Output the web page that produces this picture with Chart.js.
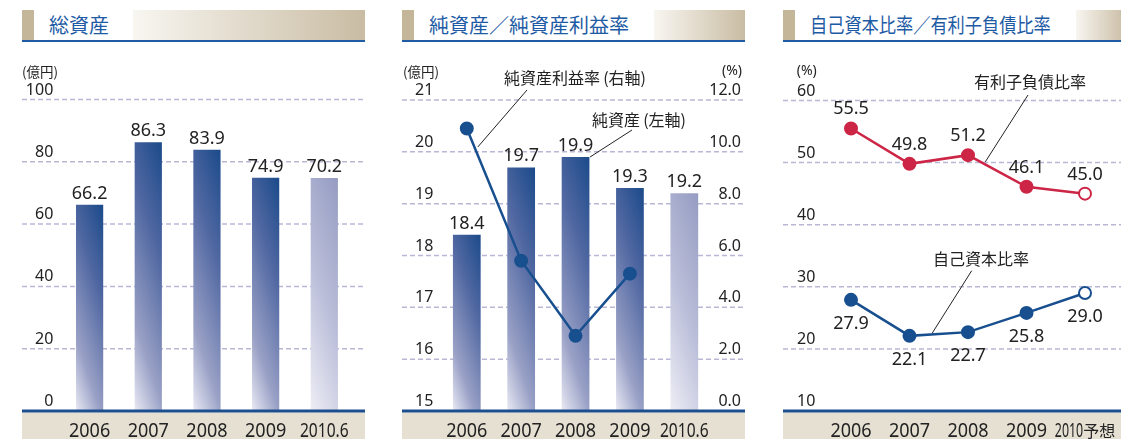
<!DOCTYPE html>
<html><head><meta charset="utf-8">
<script src="https://cdn.jsdelivr.net/npm/chart.js@4.4.1/dist/chart.umd.min.js"></script>
<style>
html,body{margin:0;padding:0;background:#fff;overflow:hidden;width:1121px;height:439px;}
.panel{position:absolute;top:0;width:343px;height:439px;}
.hdr{position:absolute;left:0;top:10px;width:343px;height:29.5px;border-bottom:2px solid #1f5ca3;}
.blk{position:absolute;left:0;top:0;width:11.5px;height:29.5px;background:#c4b699;}
.ttl{position:absolute;left:27px;top:0;height:29.5px;line-height:29.5px;font-family:"Noto Sans CJK JP";font-size:20px;color:#1e5ba5;white-space:nowrap;transform-origin:0 50%;}
.band{position:absolute;top:0;right:0;height:29.5px;background:linear-gradient(to right,#f8f6f1,#c9bca3);}
canvas{position:absolute;left:0;top:45px;}
</style>
</head><body>
<div class="panel" style="left:22px">
  <div class="hdr"><div class="blk"></div><div class="ttl">総資産</div><div class="band" style="left:111px"></div></div>
  <canvas id="c1" width="343" height="394"></canvas>
</div>
<div class="panel" style="left:402px">
  <div class="hdr"><div class="blk"></div><div class="ttl">純資産／純資産利益率</div><div class="band" style="left:252px"></div></div>
  <canvas id="c2" width="343" height="394"></canvas>
</div>
<div class="panel" style="left:783px">
  <div class="hdr"><div class="blk"></div><div class="ttl" style="transform:scaleX(0.86)">自己資本比率／有利子負債比率</div><div class="band" style="left:293px"></div></div>
  <canvas id="c3" width="343" height="394"></canvas>
</div>
<script>
// ---------- data ----------
const years1 = ['2006', '2007', '2008', '2009', '2010.6'];
// bar heights as drawn in the picture (the 2010.6 bar is drawn at ~74.8)
const totalAssets = [66.2, 86.3, 83.9, 74.9, 74.8];
// printed value labels
const totalAssetsLabels = ['66.2', '86.3', '83.9', '74.9', '70.2'];
const ticks1 = [0, 20, 40, 60, 80, 100];

const years2 = ['2006', '2007', '2008', '2009', '2010.6'];
const netAssets = [18.4, 19.7, 19.9, 19.3, 19.2];
const roe = [10.9, 5.8, 2.9, 5.3, null];
const ticks2Left = [15, 16, 17, 18, 19, 20, 21];
const ticks2Right = [0, 2, 4, 6, 8, 10, 12];

const years3 = ['2006', '2007', '2008', '2009', '2010予想'];
const debtRatio = [55.5, 49.8, 51.2, 46.1, 45.0];
const equityRatio = [27.9, 22.1, 22.7, 25.8, 29.0];
const ticks3 = [10, 20, 30, 40, 50, 60];

// ---------- styles ----------
Chart.defaults.font.family = '"Noto Sans", sans-serif';
const CANVAS_TOP = 45;
const BLUE = '#184f8f', RED = '#cc2545';
const NUM = '"Noto Sans", sans-serif';
const JP = '"Noto Sans CJK JP", sans-serif';

function barGradient(bp, lightIndex) {
  return function (ctx) {
    const chart = ctx.chart;
    const light = ctx.dataIndex === lightIndex;
    if (!chart.chartArea || ctx.type !== 'data') return light ? '#b0b5d3' : '#4d64a0';
    const meta = chart.getDatasetMeta(ctx.datasetIndex);
    const xs = chart.scales.x, ys = chart.scales[meta.yAxisID];
    const step = xs.getPixelForValue(1) - xs.getPixelForValue(0);
    const w = step * bp;
    const xc = xs.getPixelForValue(ctx.dataIndex);
    const right = xc + w / 2;
    const top = ys.getPixelForValue(ctx.raw);
    const h = ys.bottom - top;
    const a = 3;
    const k = (a * w + h) / (a * a + 1);
    const g = chart.ctx.createLinearGradient(right, top, right - a * k, top + k);
    if (light) {
      g.addColorStop(0, '#959cc2');
      g.addColorStop(0.5, '#b9bdd8');
      g.addColorStop(1, '#eeeef6');
    } else {
      g.addColorStop(0, '#1b4a8a');
      g.addColorStop(0.35, '#5168a2');
      g.addColorStop(0.75, '#9aa1c6');
      g.addColorStop(1, '#e9eaf4');
    }
    return g;
  };
}

function panelPlugin(opt) {
  return {
    id: 'panel_' + opt.id,
    beforeDatasetsDraw(chart) {
      const c = chart.ctx, W = chart.width;
      const main = chart.scales[opt.axes[0].id];
      c.save();
      c.strokeStyle = '#b8b8d6';
      c.lineWidth = 1.5;
      c.setLineDash([5, 3]);
      opt.axes[0].ticks.forEach(v => {
        if (v === main.min) return;
        const y = main.getPixelForValue(v);
        c.beginPath(); c.moveTo(0, y); c.lineTo(W, y); c.stroke();
      });
      c.setLineDash([]);
      c.fillStyle = '#222';
      c.font = '16px ' + NUM;
      c.textBaseline = 'alphabetic';
      opt.axes.forEach(ax => {
        const s = chart.scales[ax.id];
        c.textAlign = 'right';
        ax.ticks.forEach(v => {
          const y = s.getPixelForValue(v);
          c.fillText(ax.fmt(v), ax.labelX, y - 5);
        });
        c.font = ax.unitFont;
        c.textAlign = ax.unitAlign;
        c.textBaseline = 'middle';
        c.fillText(ax.unit, ax.unitX, 71.5 - CANVAS_TOP);
        c.textBaseline = 'alphabetic';
        c.font = '16px ' + NUM;
      });
      c.restore();
    },
    afterDatasetsDraw(chart) {
      const c = chart.ctx, W = chart.width, H = chart.height;
      const bottom = chart.chartArea.bottom;
      c.save();
      c.fillStyle = '#e6e0d3';
      c.fillRect(0, bottom + 1.5, W, H - bottom);
      c.fillStyle = '#1d4f8e';
      c.fillRect(0, bottom - 1.5, W, 3);
      const xs = chart.scales.x;
      c.fillStyle = '#222';
      c.textBaseline = 'alphabetic';
      const by = 436.5 - CANVAS_TOP;
      opt.labels.forEach((lab, i) => {
        const x = xs.getPixelForValue(i);
        if (lab.indexOf('予想') >= 0) {
          const num = lab.replace('予想', '');
          c.font = '20px ' + NUM;
          const w1 = c.measureText(num).width * 0.62;
          c.font = '16px ' + JP;
          const w2 = c.measureText('予想').width;
          const x0 = x - (w1 + w2) / 2;
          c.save(); c.translate(x0, by); c.scale(0.62, 1);
          c.font = '20px ' + NUM; c.textAlign = 'left'; c.fillText(num, 0, 0);
          c.restore();
          c.font = '16px ' + JP; c.textAlign = 'left';
          c.fillText('予想', x0 + w1, by);
        } else {
          const sx = lab.length > 4 ? 0.78 : 0.9;
          c.save(); c.translate(x, by); c.scale(sx, 1);
          c.font = '20px ' + NUM; c.textAlign = 'center'; c.fillText(lab, 0, 0);
          c.restore();
        }
      });
      c.font = '18px ' + NUM;
      c.textAlign = 'center';
      c.fillStyle = '#222';
      opt.values.forEach(vl => {
        const meta = chart.getDatasetMeta(vl.ds);
        const vals = chart.data.datasets[vl.ds].data;
        meta.data.forEach((el, i) => {
          if (vals[i] == null) return;
          let y;
          if (vl.pos === 'bar') y = el.y - 6;
          else if (vl.pos === 'above') y = el.y - 14;
          else y = el.y + 29;
          const txt = vl.texts ? vl.texts[i] : vals[i].toFixed(1);
          c.fillText(txt, el.x, y);
        });
      });
      (opt.notes || []).forEach(n => {
        c.font = n.font;
        c.textAlign = 'center';
        c.textBaseline = 'middle';
        c.fillText(n.text, n.tx, n.ty);
        const el = chart.getDatasetMeta(n.ds).data[n.idx];
        c.strokeStyle = '#222';
        c.lineWidth = 1;
        c.beginPath();
        c.moveTo(n.lx, n.ly);
        c.lineTo(el.x + n.dx, el.y + n.dy);
        c.stroke();
      });
      c.restore();
    }
  };
}

const baseOpts = {
  responsive: false,
  animation: false,
  events: [],
  plugins: { legend: { display: false }, tooltip: { enabled: false } },
};

// ---------- chart 1 ----------
new Chart(document.getElementById('c1'), {
  type: 'bar',
  data: {
    labels: years1,
    datasets: [{
      data: totalAssets,
      backgroundColor: barGradient(0.464, 4),
      barPercentage: 0.464,
      categoryPercentage: 1,
      borderWidth: 0
    }]
  },
  options: Object.assign({}, baseOpts, {
    layout: { padding: { left: 38.26, right: 11.36, top: 54.5, bottom: 28 } },
    scales: {
      x: { display: false, offset: true },
      y: { display: false, min: 0, max: 100 }
    }
  }),
  plugins: [panelPlugin({
    id: 1,
    labels: years1,
    axes: [{ id: 'y', ticks: ticks1, fmt: v => String(v), labelX: 31.3,
             unit: '(億円)', unitFont: '13.5px ' + JP, unitAlign: 'left', unitX: 0 }],
    values: [{ ds: 0, pos: 'bar', texts: totalAssetsLabels }]
  })]
});

// ---------- chart 2 ----------
new Chart(document.getElementById('c2'), {
  type: 'bar',
  data: {
    labels: years2,
    datasets: [
      {
        type: 'line',
        data: roe,
        yAxisID: 'y1',
        borderColor: BLUE,
        borderWidth: 2.5,
        pointRadius: 6,
        pointBorderWidth: 2,
        pointBackgroundColor: BLUE,
        pointBorderColor: BLUE,
        tension: 0,
        spanGaps: false,
        order: 0
      },
      {
        type: 'bar',
        data: netAssets,
        yAxisID: 'y',
        backgroundColor: barGradient(0.51, 4),
        barPercentage: 0.51,
        categoryPercentage: 1,
        borderWidth: 0,
        order: 1
      }
    ]
  },
  options: Object.assign({}, baseOpts, {
    layout: { padding: { left: 37.6, right: 33.5, top: 55, bottom: 28 } },
    scales: {
      x: { display: false, offset: true },
      y: { display: false, min: 15, max: 21, position: 'left' },
      y1: { display: false, min: 0, max: 12, position: 'right' }
    }
  }),
  plugins: [panelPlugin({
    id: 2,
    labels: years2,
    axes: [
      { id: 'y', ticks: ticks2Left, fmt: v => String(v), labelX: 31.3,
        unit: '(億円)', unitFont: '13.5px ' + JP, unitAlign: 'left', unitX: 1 },
      { id: 'y1', ticks: ticks2Right, fmt: v => v.toFixed(1), labelX: 339,
        unit: '(%)', unitFont: '14px ' + NUM, unitAlign: 'right', unitX: 340 }
    ],
    values: [{ ds: 1, pos: 'bar' }],
    notes: [
      { text: '純資産利益率\u2009(右軸)', font: '16px ' + JP, tx: 173, ty: 33,
        lx: 125, ly: 45, ds: 0, idx: 0, dx: 11, dy: 18.5 },
      { text: '純資産\u2009(左軸)', font: '16px ' + JP, tx: 237, ty: 75,
        lx: 230, ly: 85, ds: 1, idx: 2, dx: 14.5, dy: 0 }
    ]
  })]
});

// ---------- chart 3 ----------
const lastIdx = years3.length - 1;
function hollow(color) {
  return years3.map((_, i) => i === lastIdx ? '#ffffff' : color);
}
new Chart(document.getElementById('c3'), {
  type: 'line',
  data: {
    labels: years3,
    datasets: [
      {
        data: debtRatio,
        borderColor: RED,
        borderWidth: 2.5,
        pointRadius: 6,
        pointBorderWidth: 2,
        pointBackgroundColor: hollow(RED),
        pointBorderColor: RED,
        tension: 0
      },
      {
        data: equityRatio,
        borderColor: BLUE,
        borderWidth: 2.5,
        pointRadius: 6,
        pointBorderWidth: 2,
        pointBackgroundColor: hollow(BLUE),
        pointBorderColor: BLUE,
        tension: 0
      }
    ]
  },
  options: Object.assign({}, baseOpts, {
    layout: { padding: { left: 38.75, right: 11.75, top: 55.5, bottom: 28 } },
    scales: {
      x: { display: false, offset: true },
      y: { display: false, min: 10, max: 60 }
    }
  }),
  plugins: [panelPlugin({
    id: 3,
    labels: years3,
    axes: [{ id: 'y', ticks: ticks3, fmt: v => String(v), labelX: 32.3,
             unit: '(%)', unitFont: '14px ' + NUM, unitAlign: 'left', unitX: 13.7 }],
    values: [{ ds: 0, pos: 'above' }, { ds: 1, pos: 'below' }],
    notes: [
      { text: '有利子負債比率', font: '16px ' + JP, tx: 247, ty: 36.5,
        lx: 245, ly: 50, ds: 0, idx: 2, dx: 17.3, dy: 6.7 },
      { text: '自己資本比率', font: '16px ' + JP, tx: 198, ty: 214,
        lx: 188.7, ly: 225.7, ds: 1, idx: 1, dx: 22.7, dy: -2.7 }
    ]
  })]
});
</script>
</body></html>
